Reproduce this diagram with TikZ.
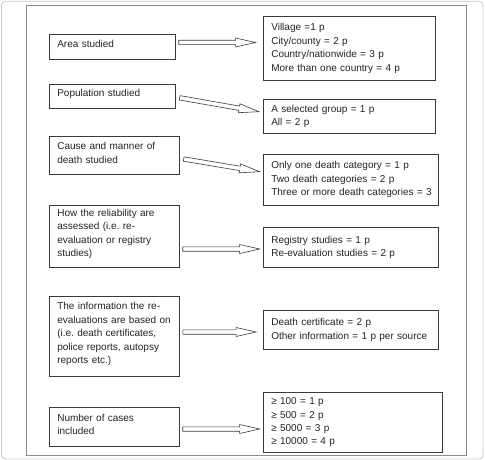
\documentclass[tikz,border=0pt]{standalone}
\usepackage{fontspec}
\setmainfont{Liberation Sans}
\usetikzlibrary{calc}
\frenchspacing
\definecolor{boxline}{HTML}{3A3A3A}
\definecolor{frameline}{HTML}{8C8C8C}
\definecolor{outerline}{HTML}{C8C8C8}
\definecolor{txt}{HTML}{222222}
\tikzset{
  basebox/.style={draw=boxline, line width=0.8pt, inner xsep=8pt, inner ysep=0pt,
    align=left, text=txt, font=\fontsize{10}{13.4}\selectfont},
  lbox/.style={basebox, execute at end node={\par\vspace{5pt}}},
  rbox/.style={basebox},
  arrowline/.style={draw=boxline, line width=0.6pt, fill=white, line join=miter},
}
\newcommand{\hollowarrow}[2]{%
  \coordinate (hb) at ($(#2)!20pt!(#1)$);
  \draw[arrowline] ($(#1)!2.2pt!90:(#2)$) -- ($(hb)!2.2pt!-90:(#1)$) -- ($(hb)!4.5pt!-90:(#1)$) -- (#2) -- ($(hb)!4.5pt!90:(#1)$) -- ($(hb)!2.2pt!90:(#1)$) -- ($(#1)!2.2pt!-90:(#2)$) -- cycle;}
\begin{document}
\begin{tikzpicture}[x=1pt,y=-1pt]
\useasboundingbox (0,0) rectangle (485,460);
% frames
\draw[outerline, line width=0.8pt, rounded corners=4pt] (1.5,1.2) rectangle (483,459);
\draw[frameline, line width=1.5pt] (26.7,5.7) rectangle (466.7,455.5);
% left boxes
\node[lbox, minimum width=126.4pt, text width=110.4pt, minimum height=25pt] (l1) at (112.5,46.8) {Area studied};
\node[lbox, minimum width=126.4pt, text width=110.4pt, minimum height=24.3pt] (l2) at (112.5,96.2) {Population studied};
\node[lbox, minimum width=130pt, text width=114pt, minimum height=37.6pt] (l3) at (114.3,155.5) {\mbox{Cause and manner of}\\death studied};
\node[lbox, minimum width=130pt, text width=114pt, minimum height=61.6pt] (l4) at (114.3,236.5) {\mbox{How the reliability are}\\\mbox{assessed (i.e. re-}\\\mbox{evaluation or registry}\\studies)};
\node[lbox, minimum width=130pt, text width=114pt, minimum height=80pt] (l5) at (114.3,336.7) {\mbox{The information the re-}\\\mbox{evaluations are based on}\\\mbox{(i.e. death certificates,}\\\mbox{police reports, autopsy}\\\mbox{reports etc.)}};
\node[lbox, minimum width=130pt, text width=114pt, minimum height=38.7pt] (l6) at (114.3,426.7) {\mbox{Number of cases}\\included};
% right boxes
\node[rbox, minimum width=172.4pt, text width=156.4pt, minimum height=63.6pt] (r1) at (349.5,48.5) {\mbox{Village =1 p}\\\mbox{City/county = 2 p}\\\mbox{Country/nationwide = 3 p}\\\mbox{More than one country = 4 p}};
\node[rbox, minimum width=172.4pt, text width=156.4pt, minimum height=34.7pt] (r2) at (349.5,116.3) {\mbox{A selected group = 1 p}\\\mbox{All = 2 p}};
\node[rbox, minimum width=175pt, text width=159pt, minimum height=51pt] (r3) at (350.8,179.5) {\mbox{Only one death category = 1 p}\\\mbox{Two death categories = 2 p}\\\mbox{Three or more death categories = 3}};
\node[rbox, minimum width=175pt, text width=159pt, minimum height=39.6pt] (r4) at (350.8,247.5) {\mbox{Registry studies = 1 p}\\\mbox{Re-evaluation studies = 2 p}};
\node[rbox, minimum width=175pt, text width=159pt, minimum height=38.3pt] (r5) at (350.8,329.8) {\mbox{Death certificate = 2 p}\\\mbox{Other information = 1 p per source}};
\node[rbox, minimum width=179.4pt, text width=163.4pt, minimum height=60pt] (r6) at (353,422.3) {\mbox{≥ 100 = 1 p}\\\mbox{≥ 500 = 2 p}\\\mbox{≥ 5000 = 3 p}\\\mbox{≥ 10000 = 4 p}};
% arrow end points
\coordinate (a1s) at ($(l1.east)+(2.6,-4.3)$);
\coordinate (a1e) at ($(r1.west)+(-7.3,-6)$);
\coordinate (a2s) at ($(l2.east)+(3.6,1.6)$);
\coordinate (a2e) at ($(r2.west)+(-4,-4.6)$);
\coordinate (a3s) at ($(l3.east)+(4,3.5)$);
\coordinate (a3e) at ($(r3.west)+(-3.3,-7.8)$);
\coordinate (a4s) at ($(l4.east)+(3,12.5)$);
\coordinate (a4e) at ($(r4.west)+(-3.3,1.5)$);
\coordinate (a5s) at ($(l5.east)+(3.2,-4.7)$);
\coordinate (a5e) at ($(r5.west)+(-6.8,2.2)$);
\coordinate (a6s) at ($(l6.east)+(3,2.3)$);
\coordinate (a6e) at ($(r6.west)+(-3.3,6.7)$);
\hollowarrow{a1s}{a1e}
\hollowarrow{a2s}{a2e}
\hollowarrow{a3s}{a3e}
\hollowarrow{a4s}{a4e}
\hollowarrow{a5s}{a5e}
\hollowarrow{a6s}{a6e}
\end{tikzpicture}
\end{document}
